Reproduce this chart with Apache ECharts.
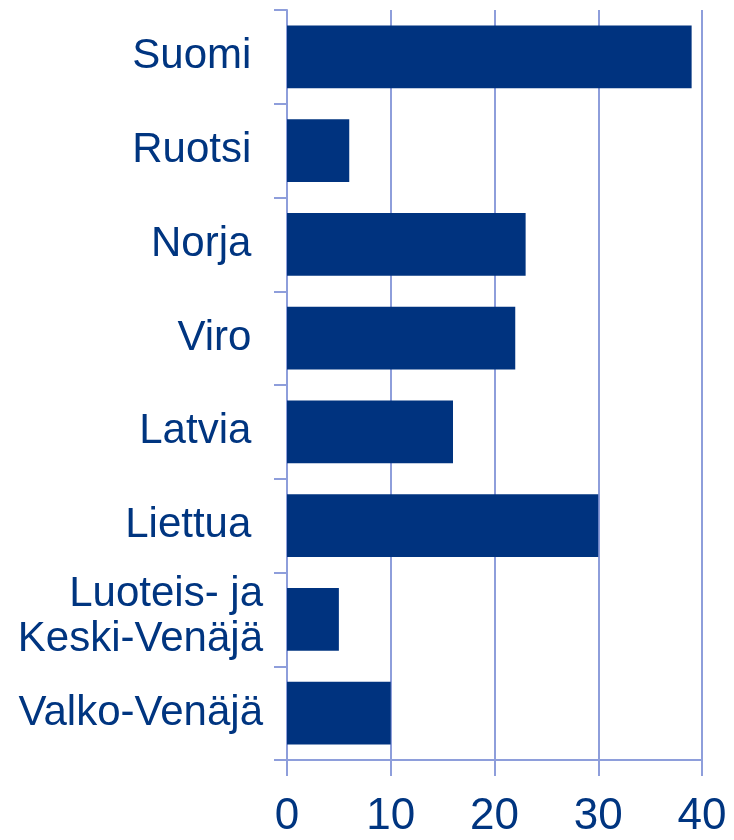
<!DOCTYPE html>
<html>
<head>
<meta charset="utf-8">
<script src="https://cdn.jsdelivr.net/npm/echarts@6/dist/echarts.min.js"></script>
<style>
html,body{margin:0;padding:0;background:#fff;}
#c{width:734px;height:840px;}
</style>
</head>
<body>
<div id="c"></div>
<script>
var categories = ['Suomi', 'Ruotsi', 'Norja', 'Viro', 'Latvia', 'Liettua', 'Luoteis- ja\nKeski-Venäjä', 'Valko-Venäjä'];
var values = [39, 6, 23, 22, 16, 30, 5, 10];
var xTicks = [0, 10, 20, 30, 40];

var textColor = '#003580';
var barColor = '#00337f';
var lineColor = '#8e9edb';
var font = '"Liberation Sans", Arial, Helvetica, sans-serif';

var chart = echarts.init(document.getElementById('c'));
chart.setOption({
  animation: false,
  backgroundColor: '#ffffff',
  grid: { left: 287, right: 32, top: 10, bottom: 80, containLabel: false },
  xAxis: {
    type: 'value',
    min: xTicks[0],
    max: xTicks[xTicks.length - 1],
    interval: xTicks[1] - xTicks[0],
    axisLine: { show: true, lineStyle: { color: lineColor, width: 2 } },
    axisTick: { show: true, length: 16, lineStyle: { color: lineColor, width: 2 } },
    splitLine: { show: true, lineStyle: { color: lineColor, width: 2 } },
    axisLabel: { color: textColor, fontSize: 44, fontFamily: font, margin: 35 }
  },
  yAxis: {
    type: 'category',
    inverse: true,
    data: categories,
    axisLine: { show: true, lineStyle: { color: lineColor, width: 2 } },
    axisTick: { show: true, length: 13, alignWithLabel: false, lineStyle: { color: lineColor, width: 2 } },
    splitLine: { show: false },
    axisLabel: {
      color: textColor, fontSize: 42, fontFamily: font, margin: 24,
      lineHeight: 45, align: 'right',
      formatter: function (v) {
        if (v.indexOf('\n') >= 0) return '{m|' + v.split('\n').join('}\n{m|') + '}';
        return v.indexOf('Valko') === 0 ? v : v + ' ';
      },
      rich: {
        m: { color: textColor, fontSize: 42, fontFamily: font, lineHeight: 45, padding: [0, 0, 4, 0] }
      }
    }
  },
  series: [{
    type: 'bar',
    data: values,
    barCategoryGap: '33%',
    itemStyle: { color: barColor },
    silent: true
  }]
});
</script>
</body>
</html>
